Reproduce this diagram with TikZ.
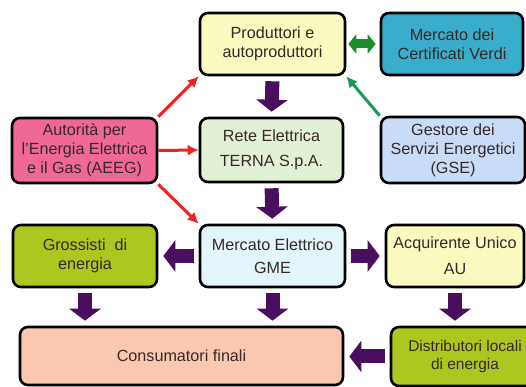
\documentclass[tikz,border=0pt]{standalone}
\usepackage{fontspec}
\setmainfont{Liberation Sans}
\usetikzlibrary{arrows.meta,calc}
\definecolor{textbrown}{RGB}{55,40,40}
\definecolor{paleyellow}{RGB}{250,250,192}
\definecolor{cvteal}{RGB}{58,172,204}
\definecolor{aeegpink}{RGB}{240,104,152}
\definecolor{retegreen}{RGB}{226,240,214}
\definecolor{gseblue}{RGB}{200,220,248}
\definecolor{gmecyan}{RGB}{226,245,250}
\definecolor{limegreen}{RGB}{172,200,32}
\definecolor{peach}{RGB}{250,200,176}
\definecolor{flowpurple}{RGB}{74,14,94}
\definecolor{linkred}{RGB}{238,34,34}
\definecolor{linkgreen}{RGB}{26,154,90}
\definecolor{cvgreen}{RGB}{30,140,46}
\tikzset{
  box/.style={draw=black, line width=1.3mm, rounded corners=4mm,
              inner sep=2pt, align=center, text=textbrown,
              font=\fontsize{23}{27}\selectfont},
  boxyellow/.style={box, fill=paleyellow},
  boxteal/.style={box, fill=cvteal},
  boxpink/.style={box, fill=aeegpink},
  boxgreen/.style={box, fill=retegreen},
  boxblue/.style={box, fill=gseblue},
  boxcyan/.style={box, fill=gmecyan},
  boxlime/.style={box, fill=limegreen},
  boxpeach/.style={box, fill=peach},
  flow/.style={-{Triangle[length=6mm,width=15.5mm]}, line width=7mm,
               draw=flowpurple, shorten <=2.5mm, shorten >=2.5mm},
  redlink/.style={-{Latex[length=5.5mm,width=5.5mm]}, line width=1.5mm,
                  draw=linkred},
  greenlink/.style={-{Latex[length=5.5mm,width=5.5mm]}, line width=1.5mm,
                    draw=linkgreen},
  exchange/.style={{Triangle[length=4mm,width=9.5mm]}-{Triangle[length=4mm,width=9.5mm]},
                   line width=4.5mm, draw=cvgreen,
                   shorten <=1mm, shorten >=2mm},
}

\begin{document}
\begin{tikzpicture}[x=1cm,y=1cm]
  \useasboundingbox (0,0) rectangle (26.3,19.35);
  \clip (0,0) rectangle (26.3,19.35);

  % Top row.
  \node[boxyellow, minimum width=72.5mm, minimum height=31mm] (prod) at (13.625,17.15)
    {Produttori e\\autoproduttori};
  \node[boxteal, minimum width=71mm, minimum height=31mm] (cv) at (22.6,17.15)
    {Mercato dei\\Certificati Verdi};

  % Second row.
  \node[boxpink, minimum width=72.5mm, minimum height=32.5mm] (aeeg) at (4.225,11.825)
    {Autorità per\\l'Energia Elettrica\\e il Gas (AEEG)};
  \node[boxgreen, minimum width=71.5mm, minimum height=32mm] (rete) at (13.575,11.85)
    {Rete Elettrica\\[9pt]TERNA S.p.A.};
  \node[boxblue, minimum width=72mm, minimum height=33mm] (gse) at (22.65,11.85)
    {Gestore dei\\Servizi Energetici\\(GSE)};

  % Third row.
  \node[boxlime, minimum width=72mm, minimum height=31mm] (gross) at (4.25,6.55)
    {Grossisti\ \ di\\energia};
  \node[boxcyan, minimum width=72.5mm, minimum height=31mm] (gme) at (13.625,6.55)
    {Mercato Elettrico\\[6pt]GME};
  \node[boxyellow, minimum width=69mm, minimum height=31mm] (au) at (22.75,6.55)
    {Acquirente Unico\\[10pt]AU};

  % Bottom row.
  \node[boxpeach, minimum width=161.5mm, minimum height=29mm] (cons) at (9.075,1.55)
    {Consumatori finali};
  \node[boxlime, minimum width=74mm, minimum height=29.5mm,
        font=\fontsize{22}{26}\selectfont] (dist) at (23.25,1.525)
    {Distributori locali\\di energia};

  % Regulator and GSE links.
  \draw[redlink] (aeeg.north east) -- (prod.south west);
  \draw[redlink] (aeeg.east) -- (rete.west);
  \draw[redlink] (aeeg.south east) -- (gme.north west);
  \draw[greenlink] (gse.north west) -- (prod.south east);
  \draw[exchange] (prod.east) -- (cv.west);

  % Energy flows.
  \draw[flow] (prod.south) -- (rete.north);
  \draw[flow] (rete.south) -- (gme.north);
  \draw[flow] (gme.west) -- (gross.east);
  \draw[flow] (gme.east) -- (au.west);
  \draw[flow] (gross.south) -- (gross.south |- cons.north);
  \draw[flow] (gme.south) -- (gme.south |- cons.north);
  \draw[flow] (au.south) -- (au.south |- dist.north);
  \draw[flow] (dist.west) -- (dist.west -| cons.east);
\end{tikzpicture}
\end{document}
